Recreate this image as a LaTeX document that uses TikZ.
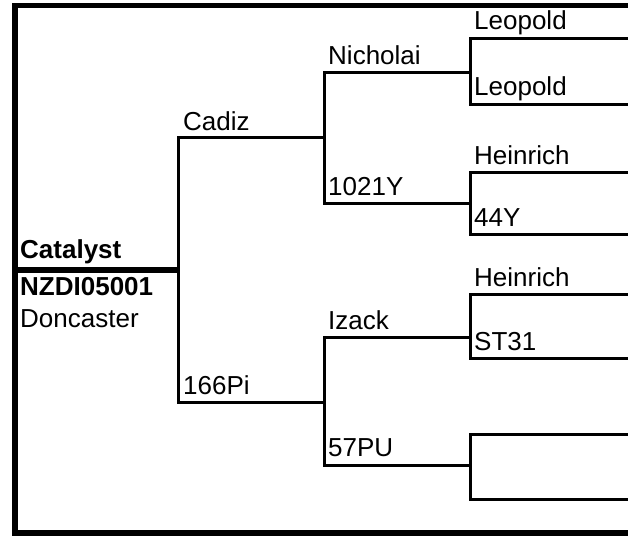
\documentclass[tikz,border=0pt]{standalone}
\usepackage{fontspec}
\setmainfont{Liberation Sans}
\begin{document}
\begin{tikzpicture}[x=1pt,y=-1pt,
  conn/.style={line width=3pt},
  heavy/.style={line width=5.5pt},
  lbl/.style={anchor=base west, inner sep=0pt, font=\fontsize{26}{31}\selectfont},
  blbl/.style={lbl, font=\fontsize{26}{31}\selectfont\bfseries}]
\useasboundingbox (0,0) rectangle (628,535);
% frame
\draw[heavy] (628,5.5) -- (15,5.5) -- (15,533) -- (628,533);
% line coordinates
\coordinate (s0) at (15,270);    \coordinate (s1) at (178.5,270);
\coordinate (f0) at (178.5,137); \coordinate (f1) at (324.5,137);
\coordinate (m0) at (178.5,402); \coordinate (m1) at (324.5,402);
\coordinate (ff0) at (324.5,72.5); \coordinate (ff1) at (470,72.5);
\coordinate (fm0) at (324.5,203);  \coordinate (fm1) at (470,203);
\coordinate (mf0) at (324.5,337);  \coordinate (mf1) at (470,337);
\coordinate (mm0) at (324.5,465);  \coordinate (mm1) at (470,465);
\coordinate (fff0) at (470,38.5);  \coordinate (fff1) at (628,38.5);
\coordinate (ffm0) at (470,104);   \coordinate (ffm1) at (628,104);
\coordinate (fmf0) at (470,172);   \coordinate (fmf1) at (628,172);
\coordinate (fmm0) at (470,234.5); \coordinate (fmm1) at (628,234.5);
\coordinate (mff0) at (470,294.5); \coordinate (mff1) at (628,294.5);
\coordinate (mfm0) at (470,358);   \coordinate (mfm1) at (628,358);
\coordinate (mmf0) at (470,434.5); \coordinate (mmf1) at (628,434.5);
\coordinate (mmm0) at (470,499.5); \coordinate (mmm1) at (628,499.5);
% subject
\draw[heavy] (s0) -- (s1);
% brackets
\draw[conn] (f1) -- (f0) -- (m0) -- (m1);
\draw[conn] (ff1) -- (ff0) -- (fm0) -- (fm1);
\draw[conn] (mf1) -- (mf0) -- (mm0) -- (mm1);
\draw[conn] (fff1) -- (fff0) -- (ffm0) -- (ffm1);
\draw[conn] (fmf1) -- (fmf0) -- (fmm0) -- (fmm1);
\draw[conn] (mff1) -- (mff0) -- (mfm0) -- (mfm1);
\draw[conn] (mmf1) -- (mmf0) -- (mmm0) -- (mmm1);
% labels
\node[blbl] (subj) at (20,258) {Catalyst};
\node[blbl] (reg) at (20,295) {NZDI05001};
\node[lbl] (loc) at (20,327) {Doncaster};
\node[lbl] (sire) at (183,130) {Cadiz};
\node[lbl] (dam) at (183,394) {166Pi};
\node[lbl] (ss) at (328,64) {Nicholai};
\node[lbl] (sd) at (328,195) {1021Y};
\node[lbl] (ds) at (328,329) {Izack};
\node[lbl] (dd) at (328,456) {57PU};
\node[lbl] (sss) at (474,30) {Leopold};
\node[lbl] (ssd) at (474,95) {Leopold};
\node[lbl] (sds) at (474,164) {Heinrich};
\node[lbl] (sdd) at (474,226) {44Y};
\node[lbl] (dss) at (474,286) {Heinrich};
\node[lbl] (dsd) at (474,350) {ST31};
\end{tikzpicture}
\end{document}
